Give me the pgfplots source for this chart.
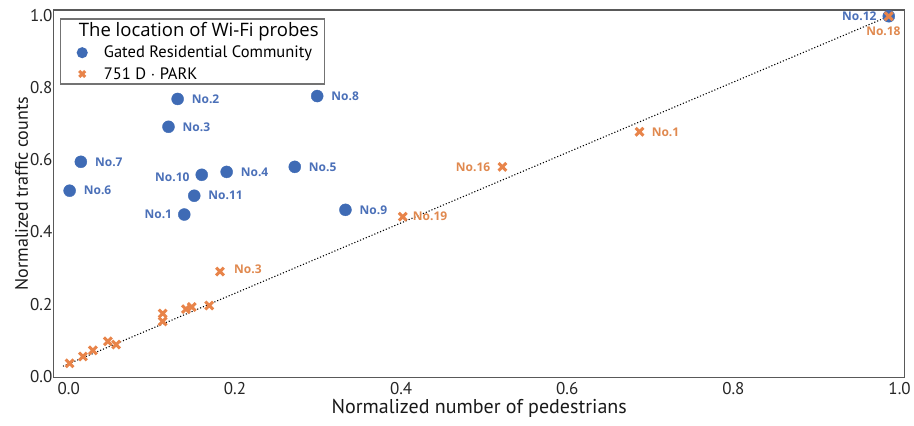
\documentclass[border=0pt]{standalone}
\usepackage{fontspec}
\setmainfont{Open Sans}
\newfontfamily\condfont{PT Sans}
\usepackage{pgfplots}
\pgfplotsset{compat=1.18}

\definecolor{gblue}{HTML}{3F6BB5}
\definecolor{porange}{HTML}{E8844A}
\definecolor{bluetext}{HTML}{4B70B8}
\definecolor{orangetext}{HTML}{E0894F}

\pgfplotstableread{
x      y
0.131  0.768
0.299  0.776
0.120  0.691
0.0145 0.594
0.001  0.514
0.160  0.558
0.190  0.566
0.272  0.580
0.151  0.500
0.139  0.448
0.333  0.461
0.987  0.997
}\gated

\pgfplotstableread{
x      y
0.987  0.997
0.687  0.677
0.522  0.580
0.402  0.442
0.182  0.290
0.169  0.196
0.148  0.192
0.141  0.186
0.113  0.174
0.113  0.152
0.047  0.097
0.057  0.088
0.029  0.072
0.017  0.055
0.001  0.036
}\park

\tikzset{
  blab/.style={font=\bfseries\fontsize{12}{12}\selectfont, text=bluetext, inner sep=0pt},
  olab/.style={font=\bfseries\fontsize{12}{12}\selectfont, text=orangetext, inner sep=0pt},
}
% legend symbol with some room to its left
\pgfplotsset{
  padded marker/.style={
    legend image code/.code={
      \path (-17pt,0pt) (5pt,0pt);
      \draw[##1] plot coordinates {(0pt,0pt)};
    }
  }
}

\begin{document}
\begin{tikzpicture}
\begin{axis}[
  scale only axis,
  width=850pt, height=367pt,
  xmin=-0.018, xmax=1.006,
  ymin=-0.003, ymax=1.014,
  xtick={0,0.2,0.4,0.6,0.8,1.0},
  ytick={0,0.2,0.4,0.6,0.8,1.0},
  /pgf/number format/fixed,
  /pgf/number format/fixed zerofill,
  /pgf/number format/precision=1,
  /pgf/number format/assume math mode=true,
  tick label style={font=\condfont\fontsize{17}{17}\selectfont, text=black!85},
  xticklabel style={yshift=-1pt},
  yticklabel style={xshift=2pt, inner ysep=9pt},
  major tick length=0pt,
  axis line style={draw=black!65, line width=1.3pt},
  xlabel={Normalized number of pedestrians},
  ylabel={Normalized traffic counts},
  xlabel style={font=\condfont\fontsize{20}{20}\selectfont, text=black!90,
    at={(axis description cs:0.5,-0.084)}, anchor=center, inner ysep=8pt},
  ylabel style={font=\condfont\fontsize{18}{18}\selectfont, text=black!90,
    at={(axis description cs:-0.038,0.5)}, anchor=center, inner ysep=15pt},
  clip=false,
  legend cell align=left,
  legend style={at={(0.007,0.978)}, anchor=north west,
    draw=black!55, line width=1.4pt,
    font=\condfont\fontsize{16.5}{18}\selectfont,
    inner xsep=4pt, inner ysep=3.5pt,
    nodes={inner xsep=2pt, inner ysep=0pt},
    column sep=14pt,
    row sep=8pt},
]
% legend heading
\addlegendimage{empty legend}
\addlegendentry{\hspace{-25pt}\rmfamily\fontsize{18.5}{20}\selectfont The location of Wi-Fi probes}

% fitted trend line
\addplot[forget plot, black, line width=1.1pt, dotted]
  coordinates {(-0.007,0.028) (0.987,0.997)};

\addplot[only marks, mark=*, mark size=6pt, color=gblue,
  mark options={draw=gblue, fill=gblue}, padded marker,
  legend image post style={mark size=4.8pt}]
  table {\gated};
\addlegendentry{Gated Residential Community}

\addplot[only marks, mark=x, mark size=5.5pt, color=porange,
  mark options={line width=3pt}, padded marker,
  legend image post style={mark size=4.2pt}]
  table {\park};
\addlegendentry{751 D $\cdot$ PARK}

% labels: gated residential community
\node[blab, anchor=west] at (axis cs:0.131,0.768) [xshift=14pt] {No.2};
\node[blab, anchor=west] at (axis cs:0.299,0.776) [xshift=14pt] {No.8};
\node[blab, anchor=west] at (axis cs:0.120,0.691) [xshift=14pt] {No.3};
\node[blab, anchor=west] at (axis cs:0.0145,0.594) [xshift=14pt] {No.7};
\node[blab, anchor=west] at (axis cs:0.001,0.514) [xshift=14pt] {No.6};
\node[blab, anchor=east] at (axis cs:0.160,0.558) [xshift=-12pt,yshift=-2pt] {No.10};
\node[blab, anchor=west] at (axis cs:0.190,0.566) [xshift=14pt] {No.4};
\node[blab, anchor=west] at (axis cs:0.272,0.580) [xshift=14pt] {No.5};
\node[blab, anchor=west] at (axis cs:0.151,0.500) [xshift=14pt] {No.11};
\node[blab, anchor=east] at (axis cs:0.139,0.448) [xshift=-12pt] {No.1};
\node[blab, anchor=west] at (axis cs:0.333,0.461) [xshift=14pt] {No.9};
\node[blab, anchor=east] at (axis cs:0.987,0.997) [xshift=-12pt] {No.12};
% labels: 751 D PARK
\node[olab, anchor=north east] at (axis cs:0.987,0.997) [xshift=12pt, yshift=-10pt] {No.18};
\node[olab, anchor=west] at (axis cs:0.687,0.677) [xshift=12pt] {No.1};
\node[olab, anchor=east] at (axis cs:0.522,0.580) [xshift=-12pt] {No.16};
\node[olab, anchor=west] at (axis cs:0.402,0.442) [xshift=10pt] {No.19};
\node[olab, anchor=west] at (axis cs:0.182,0.290) [xshift=14pt, yshift=2pt] {No.3};
\end{axis}
\end{tikzpicture}
\end{document}
